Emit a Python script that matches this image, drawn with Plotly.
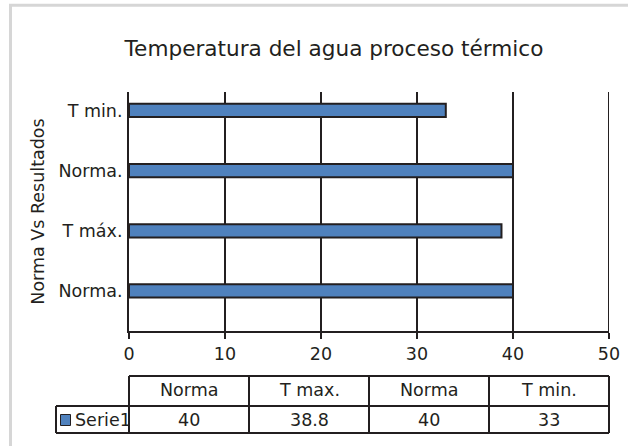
import plotly.graph_objects as go

# ---- data ----
axis_labels = ["Norma.", "T máx.", "Norma.", "T min."]   # bottom to top
table_headers = ["Norma", "T max.", "Norma", "T min."]
values = [40, 38.8, 40, 33]
series_name = "Serie1"
title_text = "Temperatura del agua proceso térmico"
y_title = "Norma Vs Resultados"
x_ticks = [0, 10, 20, 30, 40, 50]

W, H = 628, 446
ML, MR, MT, MB = 129, 19, 92, 115
PW, PH = W - ML - MR, H - MT - MB
BOTTOM = H - MB

def px(x):
    return (x - ML) / PW

def py(y):
    return (BOTTOM - y) / PH

DARK = "#231f20"
BLUE = "#4f81bd"
FONT = "DejaVu Sans"
FS = 17.5

fig = go.Figure()
fig.add_trace(go.Bar(
    x=values,
    y=list(range(len(values))),
    orientation="h",
    width=0.22,
    marker=dict(color=BLUE, line=dict(color=DARK, width=2)),
    name=series_name,
    showlegend=False,
    hoverinfo="skip",
))

shapes = []
annotations = []

# outer light border
shapes.append(dict(type="rect", xref="paper", yref="paper",
                   x0=px(10.5), x1=px(660), y0=py(470), y1=py(5.3),
                   line=dict(color="#d6d6d6", width=3), fillcolor="rgba(0,0,0,0)", layer="below"))

# last vertical gridline (at the right end of the axis)
shapes.append(dict(type="line", xref="x", yref="paper", x0=x_ticks[-1], x1=x_ticks[-1], y0=0, y1=1,
                   line=dict(color=DARK, width=2)))

# data table
n = len(values)
col_edges = [ML + i * PW / n for i in range(n + 1)]
top, mid, bot = 376, 406, 433
leg_left = 56
line = dict(color=DARK, width=2)
shapes.append(dict(type="line", xref="paper", yref="paper", x0=px(col_edges[0]), x1=px(col_edges[-1]), y0=py(top), y1=py(top), line=line))
shapes.append(dict(type="line", xref="paper", yref="paper", x0=px(leg_left), x1=px(col_edges[-1]), y0=py(mid), y1=py(mid), line=line))
shapes.append(dict(type="line", xref="paper", yref="paper", x0=px(leg_left), x1=px(col_edges[-1]), y0=py(bot), y1=py(bot), line=line))
shapes.append(dict(type="line", xref="paper", yref="paper", x0=px(leg_left), x1=px(leg_left), y0=py(mid), y1=py(bot), line=line))
for e in col_edges:
    shapes.append(dict(type="line", xref="paper", yref="paper", x0=px(e), x1=px(e), y0=py(top), y1=py(bot), line=line))

for i, (h, v) in enumerate(zip(table_headers, values)):
    cx = (col_edges[i] + col_edges[i + 1]) / 2
    annotations.append(dict(text=h, xref="paper", yref="paper", x=px(cx), y=py(389.5),
                            xanchor="center", yanchor="middle", showarrow=False,
                            font=dict(family=FONT, size=FS, color=DARK)))
    annotations.append(dict(text=f"{v:g}", xref="paper", yref="paper", x=px(cx), y=py(419.5),
                            xanchor="center", yanchor="middle", showarrow=False,
                            font=dict(family=FONT, size=FS, color=DARK)))

# legend key + series name
shapes.append(dict(type="rect", xref="paper", yref="paper", x0=px(60.5), x1=px(70.5), y0=py(425.5), y1=py(414.5),
                   fillcolor=BLUE, line=dict(color=DARK, width=1)))
annotations.append(dict(text=series_name, xref="paper", yref="paper", x=px(73), y=py(419.5),
                        xanchor="left", yanchor="middle", showarrow=False,
                        font=dict(family=FONT, size=FS, color=DARK)))

fig.update_layout(
    width=W, height=H,
    margin=dict(l=ML, r=MR, t=MT, b=MB, pad=0, autoexpand=False),
    paper_bgcolor="white", plot_bgcolor="white",
    font=dict(family=FONT, size=FS, color=DARK),
    title=dict(text=title_text, xref="paper", x=px(334), xanchor="center",
               yref="container", y=1 - 48 / H, yanchor="middle",
               font=dict(family=FONT, size=21.6, color=DARK)),
    xaxis=dict(range=[0, 50], tickvals=x_ticks, showgrid=True, gridcolor=DARK, gridwidth=2,
               showline=True, linecolor=DARK, linewidth=2, ticks="outside", ticklen=6, tickwidth=2,
               tickcolor=DARK, zeroline=False, fixedrange=True, ticklabelstandoff=0,
               tickfont=dict(family=FONT, size=FS, color=DARK)),
    yaxis=dict(range=[-0.665, 3.307], tickvals=list(range(len(axis_labels))), ticktext=axis_labels,
               showgrid=False, showline=True, linecolor=DARK, linewidth=2, ticks="", zeroline=False,
               ticklabelstandoff=1, fixedrange=True,
               title=dict(text=y_title, font=dict(family=FONT, size=FS, color=DARK), standoff=9),
               tickfont=dict(family=FONT, size=FS, color=DARK)),
    shapes=shapes,
    annotations=annotations,
)

fig.write_html("out.html", config={"displayModeBar": False},
               post_script="document.body.style.margin='0';document.body.style.overflow='hidden';")
